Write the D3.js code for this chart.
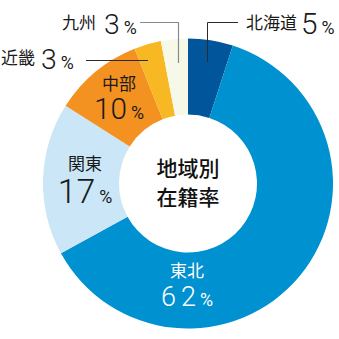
<!DOCTYPE html>
<html><head><meta charset="utf-8">
<script src="https://cdn.jsdelivr.net/npm/d3@7"></script>
<style>
html,body{margin:0;padding:0;background:#fff;}
svg{display:block;}
</style>
</head><body>
<svg id="c" width="339" height="339"></svg>
<script>
const regions = ["北海道", "東北", "関東", "中部", "近畿", "九州"];
const shares = [5, 62, 17, 10, 3, 3];
const colors = ["#00559b", "#0091d1", "#cbe6f6", "#f39221", "#f7b823", "#f6f8e8"];
const centerTitle = ["地域別", "在籍率"];

const svg = d3.select("#c");
const cx = 188, cy = 183.5, rOut = 145, rIn = 69;
const data = regions.map((r, i) => ({ region: r, value: shares[i], color: colors[i] }));
const pie = d3.pie().sort(null).value(d => d.value);
const arc = d3.arc().innerRadius(rIn).outerRadius(rOut);
const g = svg.append("g").attr("transform", `translate(${cx},${cy})`);
g.selectAll("path").data(pie(data)).join("path")
  .attr("d", arc).attr("fill", d => d.data.color);

const jp = "'Noto Sans CJK JP', sans-serif";
const num = "Roboto, 'DejaVu Sans', sans-serif";

const ctx = document.createElement("canvas").getContext("2d");
function ratio(str, weight) {
  ctx.font = `${weight} 100px ${num}`;
  const m = ctx.measureText(str);
  return (m.actualBoundingBoxAscent + m.actualBoundingBoxDescent) / 100 || 0.71;
}
const digitR = ratio("0", 300);
const pctR = ratio("%", 400);
const fs = h => h / digitR;
const ps = h => h / pctR;

// leader lines
svg.append("path").attr("d", "M207.5,62V22.5H238").attr("fill", "none").attr("stroke", "#2a2a2a").attr("stroke-width", 1);
svg.append("path").attr("d", "M140,22.5H178.5V63").attr("fill", "none").attr("stroke", "#8a8a8a").attr("stroke-width", 1.2);
svg.append("path").attr("d", "M86,60.5H148").attr("fill", "none").attr("stroke", "#2a2a2a").attr("stroke-width", 1);

function numText(sel, value, h, ph, ls) {
  sel.append("tspan").attr("font-size", fs(h)).attr("font-weight", 300)
    .attr("letter-spacing", ls || 0).text(value);
  sel.append("tspan").attr("font-size", ps(ph)).attr("dx", 4 - (ls || 0)).attr("font-weight", 400).text("%");
}
function inlineLabel(name, value, x, yName, xNum, yNum, h, color) {
  svg.append("text").attr("x", x).attr("y", yName).attr("font-family", jp).attr("font-size", 17)
    .attr("fill", color).text(name);
  const t = svg.append("text").attr("x", xNum).attr("y", yNum).attr("font-family", num).attr("fill", color);
  numText(t, value, h, 13, 0);
}
function stackLabel(name, value, x, yName, yNum, h, ph, ls, color) {
  svg.append("text").attr("x", x).attr("y", yName).attr("text-anchor", "middle").attr("font-family", jp)
    .attr("font-size", 17).attr("fill", color).text(name);
  const t = svg.append("text").attr("x", x).attr("y", yNum).attr("text-anchor", "middle").attr("font-family", num).attr("fill", color);
  numText(t, value, h, ph, ls);
}

inlineLabel(regions[0], shares[0], 246, 28.5, 301, 34, 22, "#1a1a1a");
inlineLabel(regions[5], shares[5], 62, 28.5, 104, 34, 21, "#1a1a1a");
inlineLabel(regions[4], shares[4], 1, 63.5, 41, 68.5, 21, "#1a1a1a");
stackLabel(regions[3], shares[3], 119, 90, 119, 22, 13, 0, "#1a1a1a");
stackLabel(regions[2], shares[2], 85, 169.5, 203, 25, 13, 0, "#1a1a1a");
stackLabel(regions[1], shares[1], 187, 277, 306, 20, 13, 5, "#ffffff");

svg.selectAll("text.center").data(centerTitle).join("text").attr("class", "center")
  .attr("x", cx).attr("y", (d, i) => 175.5 + i * 29.5).attr("text-anchor", "middle")
  .attr("font-family", jp).attr("font-size", 21).attr("font-weight", 500).attr("fill", "#111")
  .text(d => d);
</script>
</body></html>
